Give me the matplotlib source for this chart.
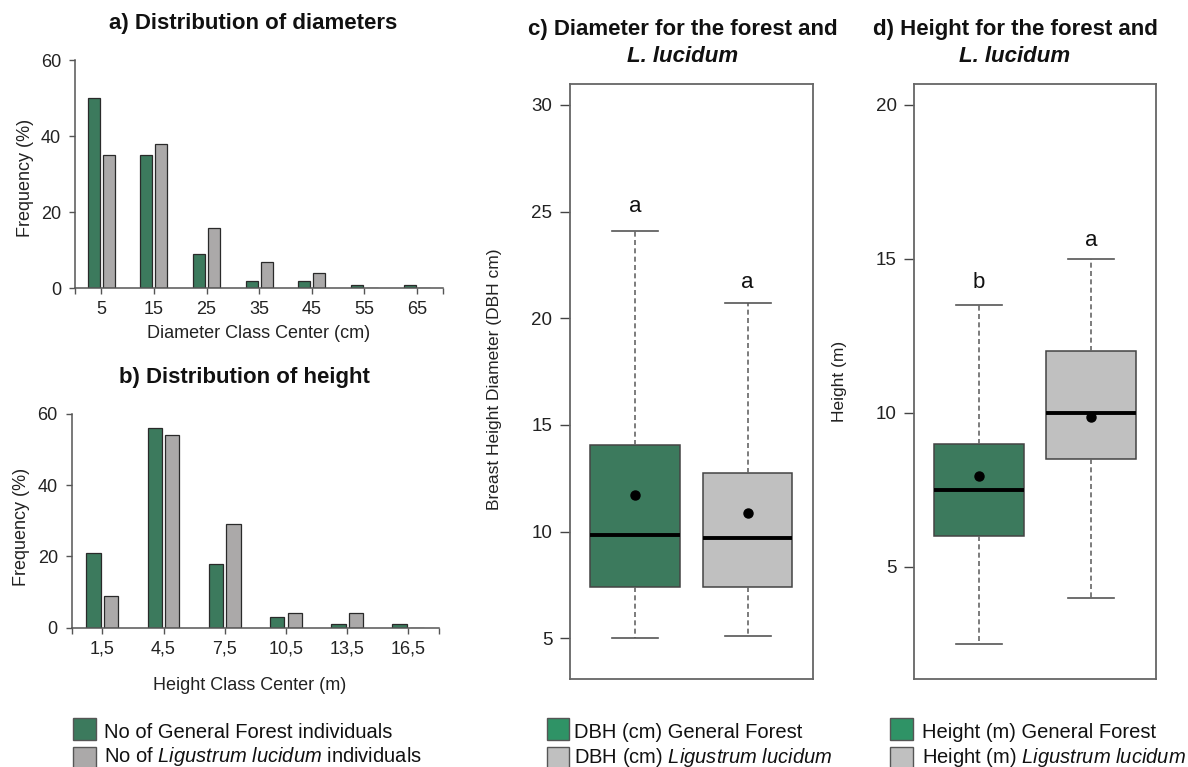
import matplotlib
matplotlib.use("Agg")
import matplotlib.pyplot as plt
from matplotlib.patches import Rectangle

plt.rcParams['font.family'] = ['Liberation Sans', 'DejaVu Sans']
plt.rcParams['mathtext.fontset'] = 'custom'
plt.rcParams['mathtext.rm'] = 'Liberation Sans'
plt.rcParams['mathtext.it'] = 'Liberation Sans:italic'

# a) diameter classes (%)
diam_centers = [5, 15, 25, 35, 45, 55, 65]
diam_forest = [50, 35, 9, 2, 2, 1, 1]
diam_ligustrum = [35, 38, 16, 7, 4, 0, 0]

# b) height classes (%)
height_centers = [1.5, 4.5, 7.5, 10.5, 13.5, 16.5]
height_labels = ['1,5', '4,5', '7,5', '10,5', '13,5', '16,5']
height_forest = [21, 56, 18, 3, 1, 1]
height_ligustrum = [9, 54, 29, 4, 4, 0]

# c) DBH boxplots: [general forest, ligustrum]
dbh_q1 = [7.38, 7.38]
dbh_med = [9.83, 9.68]
dbh_q3 = [14.05, 12.75]
dbh_lo = [5.0, 5.12]
dbh_hi = [24.07, 20.72]
dbh_mean = [11.7, 10.88]
dbh_letters = ['a', 'a']
dbh_letter_y = [25.0, 21.4]

# d) height boxplots
ht_q1 = [6.0, 8.5]
ht_med = [7.5, 10.0]
ht_q3 = [9.0, 12.0]
ht_lo = [2.5, 4.0]
ht_hi = [13.5, 15.0]
ht_mean = [7.95, 9.88]
ht_letters = ['b', 'a']
ht_letter_y = [14.04, 15.43]

GREEN = '#3c7a5d'
GREEN_LEG = '#2f9366'
GRAY_BAR = '#aba9a9'
GRAY_BOX = '#c0c0c0'
W, H = 1188, 767

fig = plt.figure(figsize=(W / 100, H / 100), dpi=100)


def rect(l, r, t, b):
    return [l / W, 1 - b / H, (r - l) / W, (b - t) / H]


def fx(x):
    return x / W


def fy(y):
    return 1 - y / H


def bar_panel(box, centers, forest, lig, xlim, width, off, labels, xlabel,
              xlab_pos, ylab_pos):
    ax = fig.add_axes(rect(*box))
    ax.bar([c - off for c in centers], forest, width, color=GREEN,
           edgecolor='#2a2a2a', linewidth=0.9)
    ax.bar([c + off for c in centers], lig, width, color=GRAY_BAR,
           edgecolor='#2a2a2a', linewidth=0.9)
    ax.set_xlim(*xlim)
    ax.set_ylim(0, 60)
    ax.set_yticks([0, 20, 40, 60])
    ax.set_xticks(centers)
    ax.set_xticklabels(labels)
    ax.set_xticks(list(xlim), minor=True)
    for s in ['top', 'right']:
        ax.spines[s].set_visible(False)
    for s in ['left', 'bottom']:
        ax.spines[s].set_color('#555555')
        ax.spines[s].set_linewidth(1.1)
    ax.tick_params(which='both', length=4, width=1, color='#555555',
                   labelsize=13, labelcolor='#222222')
    ax.tick_params(axis='x', pad=5)
    ax.tick_params(axis='y', pad=6)
    ax.set_xlabel(xlabel, fontsize=13, color='#222222')
    ax.xaxis.set_label_coords(fx(xlab_pos[0]), fy(xlab_pos[1]),
                              transform=fig.transFigure)
    ax.xaxis.label.set_va('center')
    ax.set_ylabel('Frequency (%)', fontsize=13, color='#222222')
    ax.yaxis.set_label_coords(fx(ylab_pos[0]), fy(ylab_pos[1]),
                              transform=fig.transFigure)
    ax.yaxis.label.set_va('center')
    return ax


bar_panel((75, 443.3, 60.3, 288.3), diam_centers, diam_forest, diam_ligustrum,
          (0, 70), 2.28, 1.42, [str(c) for c in diam_centers],
          'Diameter Class Center (cm)', (258.7, 333), (26, 178))
bar_panel((71.7, 439, 413.7, 627.7), height_centers, height_forest,
          height_ligustrum, (0, 18), 0.70, 0.43, height_labels,
          'Height Class Center (m)', (250, 686), (22, 527))

fig.text(fx(253), fy(24), 'a) Distribution of diameters', fontsize=16,
         fontweight='bold', ha='center', va='center', color='#111111')
fig.text(fx(244), fy(378), 'b) Distribution of height', fontsize=16,
         fontweight='bold', ha='center', va='center', color='#111111')


def box_panel(box, q1, med, q3, lo, hi, mean, letters, letter_y, ylim, yticks,
              ylabel, ylab_pos, title_x, title1):
    ax = fig.add_axes(rect(*box))
    stats = []
    for i in range(2):
        stats.append(dict(q1=q1[i], med=med[i], q3=q3[i], whislo=lo[i],
                          whishi=hi[i], mean=mean[i], fliers=[]))
    bp = ax.bxp(stats, positions=[1, 2], widths=0.8, capwidths=0.41,
                patch_artist=True, showmeans=True,
                boxprops=dict(edgecolor='#444444', linewidth=1.1),
                medianprops=dict(color='black', linewidth=2.8),
                whiskerprops=dict(color='#666666', linewidth=1.2,
                                  linestyle=(0, (3, 2))),
                capprops=dict(color='#555555', linewidth=1.2),
                meanprops=dict(marker='o', markerfacecolor='black',
                               markeredgecolor='black', markersize=6.5))
    bp['boxes'][0].set_facecolor(GREEN)
    bp['boxes'][1].set_facecolor(GRAY_BOX)
    for i in range(2):
        ax.text(i + 1, letter_y[i], letters[i], fontsize=16, ha='center',
                va='baseline', color='#111111')
    ax.set_xlim(0.417, 2.58)
    ax.set_ylim(*ylim)
    ax.set_xticks([])
    ax.set_yticks(yticks)
    for s in ax.spines.values():
        s.set_color('#666666')
        s.set_linewidth(1.3)
    ax.tick_params(axis='y', length=7.5, width=1, color='#444444',
                   labelsize=13.5, labelcolor='#222222', pad=5)
    ax.set_ylabel(ylabel, fontsize=12.5, color='#222222')
    ax.yaxis.set_label_coords(fx(ylab_pos[0]), fy(ylab_pos[1]),
                              transform=fig.transFigure)
    ax.yaxis.label.set_va('center')
    fig.text(fx(title_x), fy(30), title1, fontsize=16, fontweight='bold',
             ha='center', va='center', color='#111111')
    fig.text(fx(title_x), fy(57), 'L. lucidum', fontsize=16,
             fontweight='bold', style='italic', ha='center', va='center',
             color='#111111')
    return ax


box_panel((569.7, 812.7, 84, 678.5), dbh_q1, dbh_med, dbh_q3, dbh_lo, dbh_hi,
          dbh_mean, dbh_letters, dbh_letter_y, (3.11, 30.98),
          [5, 10, 15, 20, 25, 30], 'Breast Height Diameter (DBH cm)',
          (495, 379), 683, 'c) Diameter for the forest and')
box_panel((914, 1156, 84, 679.3), ht_q1, ht_med, ht_q3, ht_lo, ht_hi,
          ht_mean, ht_letters, ht_letter_y, (1.35, 20.68),
          [5, 10, 15, 20], 'Height (m)', (839.5, 381), 1015,
          'd) Height for the forest and')


# legends drawn in figure pixels
def legend_block(px, pw, tx, items, size, colors, base1, base2):
    for (y0, y1), col, txt, base in zip([(717.5, 740), (747, 770)], colors,
                                        items, [base1, base2]):
        fig.patches.append(Rectangle((fx(px), fy(y1)), pw / W, (y1 - y0) / H,
                                     transform=fig.transFigure,
                                     facecolor=col, edgecolor='#555555',
                                     linewidth=1))
        fig.text(fx(tx), fy(base), txt, fontsize=size, ha='left',
                 va='baseline', color='#111111')


legend_block(73, 23, 104,
             ['No of General Forest individuals',
              r'No of $\it{Ligustrum\ lucidum}$ individuals'],
             14.5, [GREEN, GRAY_BAR], 738.5, 762.5)
legend_block(547, 21.5, 574,
             ['DBH (cm) General Forest',
              r'DBH (cm) $\it{Ligustrum\ lucidum}$'],
             14.5, [GREEN_LEG, GRAY_BOX], 737.5, 763)
legend_block(890, 23, 922,
             ['Height (m) General Forest',
              r'Height (m) $\it{Ligustrum\ lucidum}$'],
             14.5, [GREEN_LEG, GRAY_BOX], 737.5, 763)

fig.savefig('out.png', dpi=100)
